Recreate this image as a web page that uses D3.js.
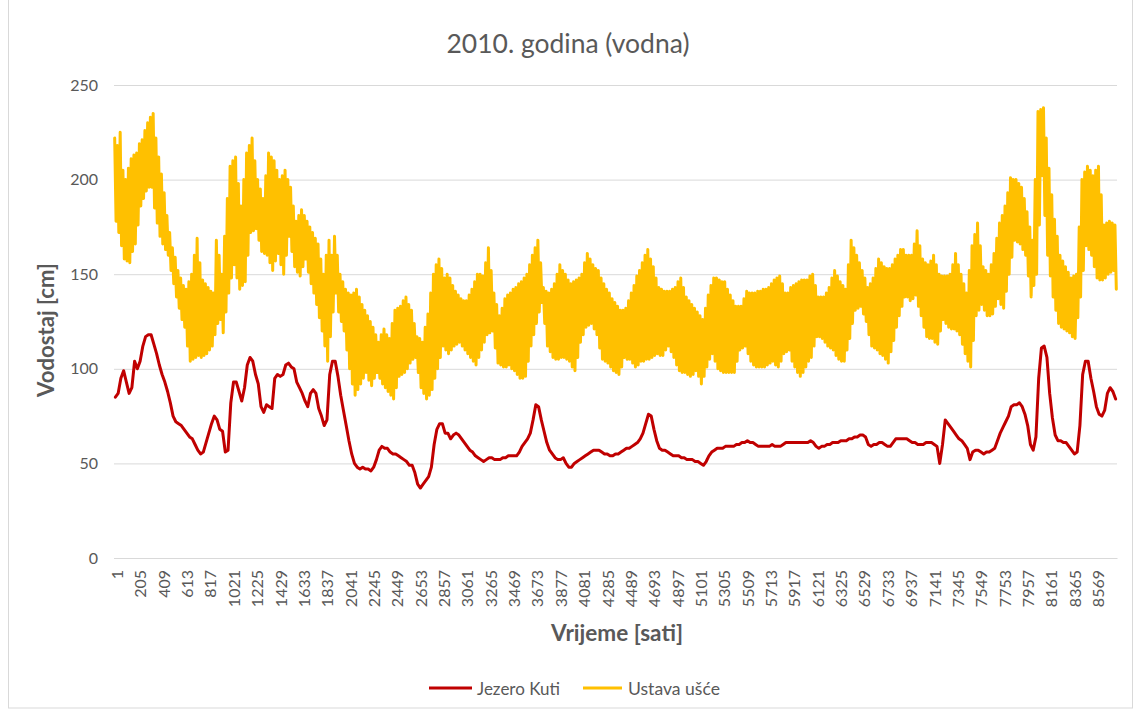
<!DOCTYPE html>
<html>
<head>
<meta charset="utf-8">
<script src="https://cdn.jsdelivr.net/npm/d3@7"></script>
<style>
  html, body { margin: 0; padding: 0; background: #fff; }
  svg { display: block; }
  text { font-family: Lato, "Open Sans", sans-serif; fill: #595959; }
</style>
</head>
<body>
<svg id="chart" width="1136" height="711"></svg>
<script>
// Jezero Kuti: srednji dnevni vodostaj (cm), jedna vrijednost po danu
const jezeroKuti = [
  85,87,95,99,93,87,90,104,100,104,112,117,118,118,113,108,102,97,93,88,82,75,72,71,70,68,66,64,63,60,57,55,56,61,66,71,75,73,68,
  67,56,57,82,93,93,88,83,90,102,106,104,97,92,80,77,81,80,79,95,97,96,97,102,103,101,100,93,90,87,83,80,87,89,87,79,75,70,73,97,104,
  104,96,86,78,70,62,55,50,48,47,48,47,47,46,48,52,57,59,58,58,56,55,55,54,53,52,51,49,49,45,39,37,39,41,43,48,60,68,71,71,66,66,
  63,65,66,65,63,61,59,57,56,54,53,52,51,52,53,53,52,52,52,53,53,54,54,54,54,56,59,61,63,66,73,81,80,73,67,61,57,55,53,52,52,
  53,50,48,48,50,51,52,53,54,55,56,57,57,57,56,55,55,54,54,55,55,56,57,58,58,59,60,61,63,66,71,76,75,68,62,58,57,57,56,55,54,54,
  54,53,53,52,52,52,51,51,50,49,51,54,56,57,58,58,58,59,59,59,59,60,60,61,61,62,61,61,60,59,59,59,59,59,60,59,59,59,60,61,61,
  61,61,61,61,61,61,61,62,61,59,58,59,59,60,60,61,61,61,62,62,62,63,63,64,64,65,65,64,60,59,60,60,61,61,60,59,59,61,63,63,63,63,
  63,62,61,61,60,60,60,61,61,61,60,59,50,60,73,71,69,67,65,63,62,60,58,52,56,57,57,56,55,56,56,57,58,62,66,69,72,75,80,81,81,
  82,80,76,70,60,57,64,95,111,112,106,87,74,65,62,62,61,61,59,57,55,56,70,97,104,104,95,88,80,76,75,78,87,90,88,84
];

// Ustava ušće: dnevni maksimum i minimum vodostaja (cm) zbog plime i oseke
const ustavaMax = [
  222,218,225,205,200,206,211,213,214,219,221,226,230,233,235,222,212,203,193,181,172,164,159,152,148,144,142,146,150,160,169,156,147,145,143,141,140,168,160,
  150,170,190,207,210,212,198,186,200,214,218,222,210,200,195,190,202,214,212,210,205,200,202,205,200,196,186,178,181,184,181,178,175,172,169,166,158,150,160,168,160,
  170,160,150,146,142,140,139,140,142,138,134,131,128,125,122,118,114,118,121,118,116,124,131,132,133,136,138,134,131,124,117,116,114,122,129,140,150,155,158,153,148,150,
  148,144,141,139,137,136,136,139,142,146,150,150,149,156,164,152,140,134,128,132,137,139,140,142,143,145,146,148,150,155,160,164,168,156,143,141,140,142,145,150,155,
  152,150,147,145,146,147,148,150,156,161,158,155,153,152,148,145,142,140,137,135,133,131,131,132,136,140,144,149,152,156,160,163,158,154,148,143,142,141,141,141,142,143,
  146,148,143,138,136,134,132,130,128,126,132,139,144,148,148,147,146,146,142,139,136,133,133,133,137,141,140,140,140,141,141,142,142,143,145,147,148,149,145,140,140,
  143,144,145,146,147,147,147,149,150,144,138,138,138,140,143,148,152,149,146,144,142,155,168,164,160,156,152,148,143,145,148,153,158,156,154,153,153,155,158,160,163,163,
  160,160,160,166,173,165,158,156,155,157,160,155,150,149,149,149,150,155,161,155,150,145,140,152,165,171,177,165,154,152,150,155,161,169,177,181,186,193,201,200,200,
  198,196,190,183,175,168,200,236,237,238,222,206,192,179,170,160,157,154,151,148,149,150,175,200,204,207,205,202,205,207,192,176,177,178,177,176
];
const ustavaMin = [
  178,172,165,158,157,156,162,166,176,186,190,194,196,196,185,177,170,166,163,160,152,145,138,132,126,122,112,104,105,106,107,106,107,108,110,112,118,124,126,
  119,130,140,148,155,148,142,144,146,160,172,173,174,168,162,161,160,156,152,157,161,155,150,160,170,162,154,151,149,154,158,151,145,140,134,127,120,112,104,117,130,
  140,130,125,120,110,100,92,86,89,92,95,98,94,91,95,98,95,92,90,88,86,84,90,96,97,98,100,103,105,106,98,90,87,84,86,89,95,100,106,112,110,108,
  110,112,113,114,112,110,108,106,104,102,106,110,114,118,119,120,111,103,102,101,101,102,100,99,97,95,95,96,104,112,118,124,130,135,124,112,109,106,105,105,106,
  106,105,104,101,99,106,114,118,122,123,124,121,118,111,105,104,103,101,99,98,97,101,106,105,105,103,101,102,104,104,105,105,106,107,108,107,107,110,112,109,106,102,
  99,98,98,97,96,97,99,96,92,96,101,105,108,104,100,99,98,98,98,98,98,104,110,111,112,108,104,102,101,101,101,101,102,103,104,102,101,104,108,109,110,
  104,101,98,96,98,101,104,106,112,117,117,116,114,112,111,110,107,105,104,104,110,116,124,131,132,133,129,125,118,112,111,110,108,107,105,103,109,115,122,128,133,138,
  138,136,137,139,133,128,122,117,116,116,114,113,120,126,124,122,121,121,120,118,113,108,104,101,115,128,131,134,131,128,128,129,133,137,134,132,141,150,159,168,167,
  166,163,160,149,138,144,150,176,202,181,160,149,138,131,124,122,121,120,119,117,116,127,138,152,165,163,160,154,148,147,147,148,150,151,152,142
];

const ukupnoSati = 8760;
const kategorijeX = d3.range(1, ukupnoSati + 1, 204);   // 1, 205, 409, ... 8569
const vrijednostiY = [0, 50, 100, 150, 200, 250];

// točke linija: sat u danu uz dnevnu vrijednost
const tockeKuti = jezeroKuti.map((v, d) => ({ sat: 24 * d + 12, v }));
const tockeUsce = [];
ustavaMax.forEach((vMax, d) => {
  tockeUsce.push({ sat: 24 * d + 6, v: vMax });
  tockeUsce.push({ sat: 24 * d + 18, v: ustavaMin[d] });
});

const serije = [
  { naziv: "Jezero Kuti", boja: "#C00000", tocke: tockeKuti },
  { naziv: "Ustava ušće", boja: "#FFC000", tocke: tockeUsce }
];

const svg = d3.select("#chart");
svg.append("rect").attr("width", 1136).attr("height", 711).attr("fill", "#fff");

// okvir područja grafikona
svg.append("rect")
  .attr("x", 8.5).attr("y", -1).attr("width", 1124).attr("height", 709)
  .attr("fill", "none").attr("stroke", "#d9d9d9").attr("stroke-width", 1);

const plot = { left: 114, right: 1117, top: 85, bottom: 558 };

const x = d3.scaleLinear().domain([0, ukupnoSati]).range([plot.left, plot.right]);
const y = d3.scaleLinear().domain([0, 250]).range([plot.bottom, plot.top]);

// prilagodi veličinu fonta zadanoj širini teksta
function prilagodi(sel, sirina) {
  const n = sel.node();
  const base = parseFloat(n.style.fontSize);
  const len = n.getComputedTextLength();
  if (len > 0) sel.style("font-size", (base * sirina / len).toFixed(2) + "px");
  return sel;
}

// vodoravne linije mreže i oznake osi Y
const yAxis = d3.axisLeft(y)
  .tickValues(vrijednostiY)
  .tickSize(-(plot.right - plot.left))
  .tickPadding(16)
  .tickFormat(d3.format("d"));

const gy = svg.append("g")
  .attr("transform", `translate(${plot.left},0)`)
  .call(yAxis);
gy.select(".domain").remove();
gy.selectAll(".tick line").attr("stroke", "#d9d9d9").attr("stroke-width", 1);
gy.selectAll(".tick text")
  .attr("fill", "#595959")
  .style("font-size", "16px")
  .style("font-family", "Lato, sans-serif");

// os X s okomitim oznakama sati
const xAxis = d3.axisBottom(x)
  .tickValues(kategorijeX.map(c => c - 0.5))
  .tickSize(0)
  .tickFormat((d, i) => kategorijeX[i]);

const gx = svg.append("g")
  .attr("transform", `translate(0,${plot.bottom})`)
  .call(xAxis);
gx.select(".domain").attr("stroke", "#d9d9d9");
gx.selectAll(".tick text")
  .attr("fill", "#595959")
  .style("font-size", "16px")
  .style("font-family", "Lato, sans-serif")
  .attr("text-anchor", "end")
  .attr("dy", null)
  .attr("y", 0)
  .attr("dominant-baseline", "central")
  .attr("transform", "translate(2,12) rotate(-90)");

// linije serija
const linija = d3.line()
  .x(d => x(d.sat))
  .y(d => y(d.v));

const gLinije = svg.append("g");
[serije[1], serije[0]].forEach(s => {
  gLinije.append("path")
    .datum(s.tocke)
    .attr("d", linija)
    .attr("fill", "none")
    .attr("stroke", s.boja)
    .attr("stroke-width", 3)
    .attr("stroke-linejoin", "round")
    .attr("stroke-linecap", "round");
});

// naslov i nazivi osi
prilagodi(svg.append("text")
  .attr("x", 568).attr("y", 43)
  .attr("text-anchor", "middle").attr("dominant-baseline", "central")
  .style("font-size", "21px")
  .text("2010. godina (vodna)"), 243);

prilagodi(svg.append("text")
  .attr("transform", "translate(45,330) rotate(-90)")
  .attr("text-anchor", "middle").attr("dominant-baseline", "central")
  .style("font-size", "18px").style("font-weight", "bold")
  .text("Vodostaj [cm]"), 134);

prilagodi(svg.append("text")
  .attr("x", 617).attr("y", 632)
  .attr("text-anchor", "middle").attr("dominant-baseline", "central")
  .style("font-size", "18px").style("font-weight", "bold")
  .text("Vrijeme [sati]"), 132);

// legenda
const legenda = svg.append("g");
const stavke = [
  { s: serije[0], x0: 429, x1: 472, tx: 477, w: 83 },
  { s: serije[1], x0: 583, x1: 622, tx: 628, w: 92 }
];
stavke.forEach(st => {
  legenda.append("line")
    .attr("x1", st.x0).attr("x2", st.x1)
    .attr("y1", 688).attr("y2", 688)
    .attr("stroke", st.s.boja).attr("stroke-width", 3);
  prilagodi(legenda.append("text")
    .attr("x", st.tx).attr("y", 688)
    .attr("dominant-baseline", "central")
    .style("font-size", "16px")
    .text(st.s.naziv), st.w);
});
</script>
</body>
</html>
